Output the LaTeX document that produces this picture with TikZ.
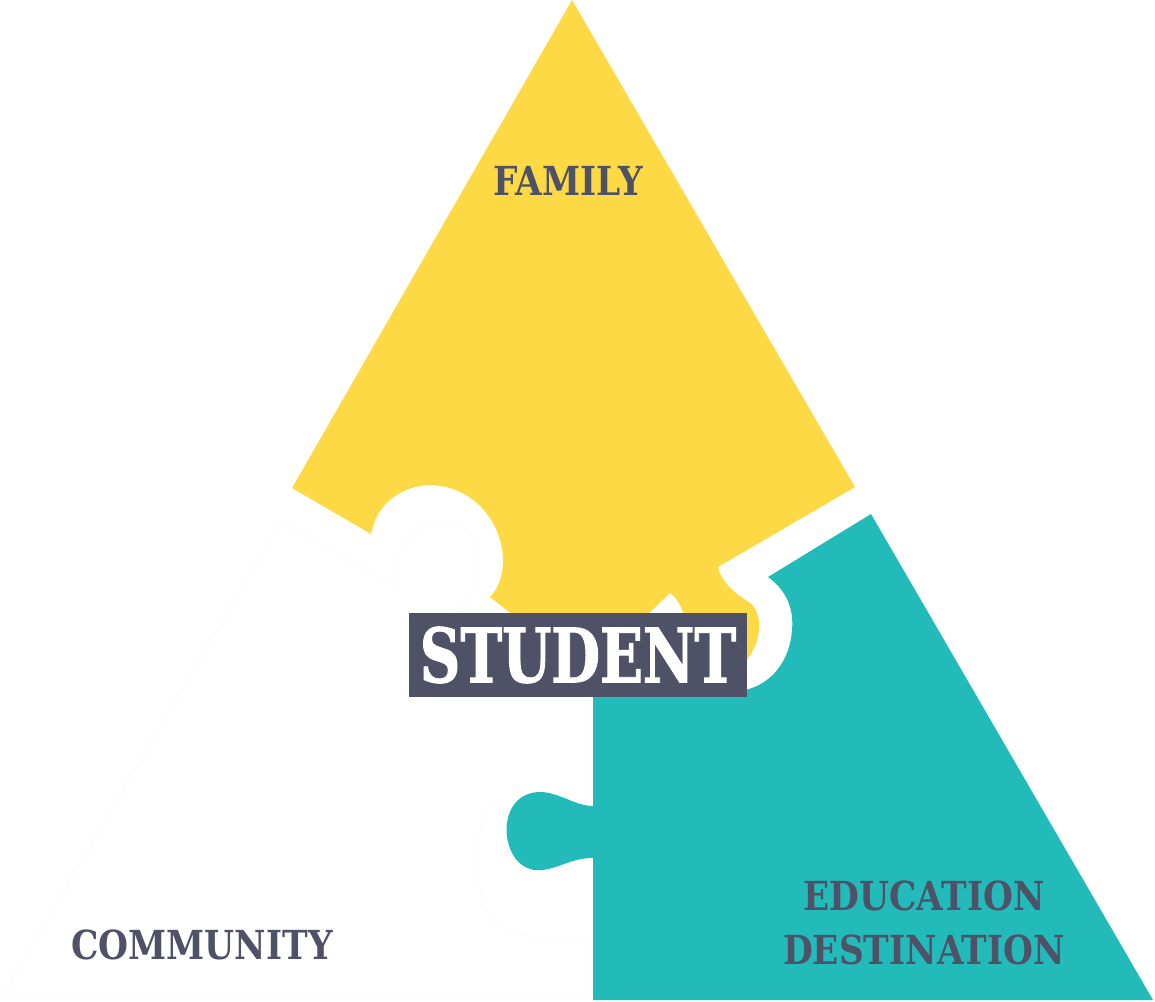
\documentclass[tikz,border=0pt]{standalone}
\usepackage{fontspec}
\setmainfont{DejaVu Serif}
\newfontfamily\piecefont[FakeStretch=0.86]{DejaVu Serif Bold}
\newfontfamily\studentfont[FakeStretch=0.75, FakeBold=1.2]{DejaVu Serif Bold}
\usepackage{xcolor}
\usepackage{tikz}
\definecolor{familyyellow}{HTML}{FDDA45}
\definecolor{destteal}{HTML}{23BBBA}
\definecolor{slate}{HTML}{4F5166}
\tikzset{
  piece label/.style={text=slate, inner sep=0pt, align=center,
    font=\piecefont\fontsize{40}{54}\selectfont},
  student box/.style={fill=slate, text=white, inner sep=0pt,
    minimum width=338pt, minimum height=84pt,
    font=\studentfont\fontsize{75}{80}\selectfont}
}

\begin{document}
\begin{tikzpicture}[x=1pt, y=-1pt]

    % Frame: same size as the reference
    \useasboundingbox (0,0) rectangle (1155,1001);

    % Community piece (white, faint outline)
    \draw[black!3, fill=white] (281,521) -- (393,585)
      .. controls (392,548) and (415,522) .. (444,521)
      .. controls (470,522) and (482,545) .. (478,576)
      .. controls (474,600) and (455,615) .. (440,622)
      -- (440,700) -- (589,700) -- (589,802)
      -- (494,802) .. controls (470,825) and (478,895) .. (486,909)
      .. controls (495,928) and (515,936) .. (528,936)
      -- (559,936) -- (589,936) -- (589,1000) -- (0,1000) -- cycle;

    % Family piece (yellow)
    \fill[familyyellow] (572,0) -- (855,487) -- (718,567)
      .. controls (722,585) and (740,596) .. (750,603)
      .. controls (762,612) and (764,640) .. (745,662)
      .. controls (725,682) and (694,660) .. (688,632)
      .. controls (685,615) and (680,600) .. (670,593)
      -- (640,622) -- (522,622) -- (490,597)
      .. controls (497,590) and (503,578) .. (503,560)
      .. controls (502,520) and (472,486) .. (430,485)
      .. controls (400,486) and (376,505) .. (371,534)
      -- (292,488) -- cycle;

    % Education destination piece (teal)
    \fill[destteal] (593,1000) -- (1153,1000) -- (871,514) -- (768,577)
      .. controls (786,590) and (794,608) .. (792,630)
      .. controls (790,660) and (772,684) .. (745,690)
      -- (700,690) -- (593,690) -- (593,806)
      .. controls (575,806) and (557,791) .. (538,792)
      .. controls (510,794) and (503,822) .. (508,842)
      .. controls (513,862) and (526,872) .. (543,870)
      .. controls (562,867) and (572,858) .. (593,858)
      -- cycle;

    % Labels: the three pieces
    \node[piece label] (family) at (568,181) {FAMILY};
    \node[piece label] (community) at (202,945) {COMMUNITY};
    \node[piece label] (destination) at (924,923) {EDUCATION\\DESTINATION};

    % Label: student in the middle
    \node[student box] (student) at (578,655) {\raisebox{-10pt}{STUDENT}};

\end{tikzpicture}
\end{document}
